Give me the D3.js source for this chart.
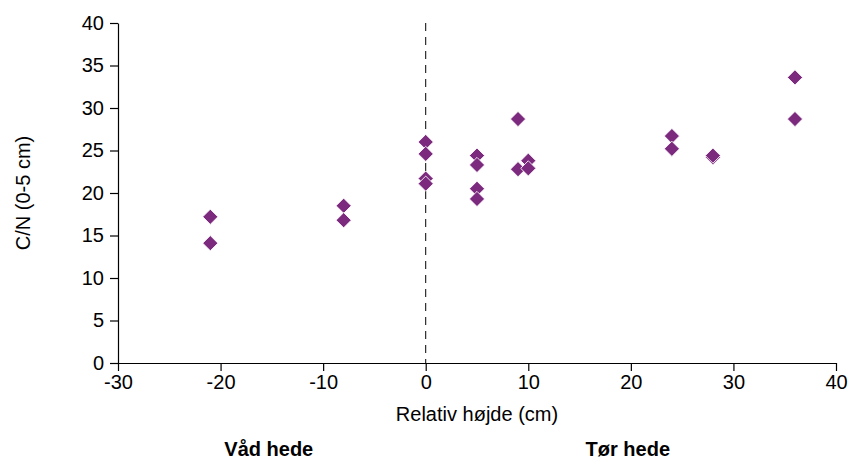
<!DOCTYPE html>
<html>
  <head>
    <meta charset="utf-8">
    <title>C/N mod relativ højde</title>
    <script src="https://d3js.org/d3.v7.min.js"></script>
    <style>
      body { margin: 0; background: #fff; }
      text { font-family: "Liberation Sans", Arial, sans-serif; fill: #000; }
      .axis path, .axis line { stroke: #000; stroke-width: 1.2; }
    </style>
  </head>
  <body>
    <svg id="chart" width="850" height="461"></svg>
    <script>
      // data
      const heights = [-21, -21, -8, -8, 0, 0, 0, 0, 5, 5, 5, 5, 9, 9, 10, 10, 24, 24, 28, 28, 36, 36];
      const cnValues = [17.2, 14.1, 18.5, 16.8, 26.0, 24.6, 21.7, 21.1, 24.4, 23.3, 20.5, 19.3, 28.7, 22.8, 23.8, 22.9, 26.7, 25.2, 24.2, 24.4, 33.6, 28.7];
      const xTicks = [-30, -20, -10, 0, 10, 20, 30, 40];
      const yTicks = [0, 5, 10, 15, 20, 25, 30, 35, 40];
      const groupLabels = ["Våd hede", "Tør hede"];
      const groupCentres = [-15.3, 19.7];

      const svg = d3.select("#chart");
      const mLeft = 118, mRight = 836, mTop = 23, mBottom = 363;

      const x = d3.scaleLinear().domain([-30, 40]).range([mLeft, mRight]);
      const y = d3.scaleLinear().domain([0, 40]).range([mBottom, mTop]);

      // dashed line at relative height 0
      svg.append("line")
        .attr("x1", x(0)).attr("x2", x(0))
        .attr("y1", y(40)).attr("y2", y(0))
        .attr("stroke", "#000")
        .attr("stroke-width", 1)
        .attr("stroke-dasharray", "8,6");

      const plain = function(d) { return String(d); };

      const xAxis = svg.append("g")
        .classed("axis", true)
        .attr("transform", "translate(0," + y(0) + ")")
        .call(d3.axisBottom(x).tickValues(xTicks).tickFormat(plain).tickSize(8).tickSizeOuter(0));
      xAxis.selectAll("text").style("font-size", "20px").attr("y", 12);

      const yAxis = svg.append("g")
        .classed("axis", true)
        .attr("transform", "translate(" + x(-30) + ",0)")
        .call(d3.axisLeft(y).tickValues(yTicks).tickFormat(plain).tickSize(8).tickSizeOuter(0));
      yAxis.selectAll("text").style("font-size", "20px").attr("x", -14);

      // points
      const points = heights.map(function(h, i) { return [h, cnValues[i]]; });
      const diamond = d3.symbol().type(d3.symbolSquare).size(115);
      svg.selectAll(".pt")
        .data(points)
        .enter().append("path")
          .classed("pt", true)
          .attr("d", diamond)
          .attr("transform", function(d) { return "translate(" + x(d[0]) + "," + y(d[1]) + ") rotate(45)"; })
          .attr("fill", "#7b2a7e")
          .attr("stroke", "#fff")
          .attr("stroke-width", 0.8);

      // axis titles
      svg.append("text")
        .attr("x", (mLeft + mRight) / 2)
        .attr("y", 421)
        .attr("text-anchor", "middle")
        .style("font-size", "20px")
        .text("Relativ højde (cm)");
      svg.append("text")
        .attr("transform", "translate(30," + (mTop + mBottom) / 2 + ") rotate(-90)")
        .attr("text-anchor", "middle")
        .style("font-size", "20px")
        .text("C/N (0-5 cm)");

      // group labels under the axis
      svg.selectAll(".group")
        .data(groupLabels)
        .enter().append("text")
          .classed("group", true)
          .attr("x", function(d, i) { return x(groupCentres[i]); })
          .attr("y", 456)
          .attr("text-anchor", "middle")
          .style("font-size", "20px")
          .style("font-weight", "bold")
          .text(function(d) { return d; });
    </script>
  </body>
</html>
